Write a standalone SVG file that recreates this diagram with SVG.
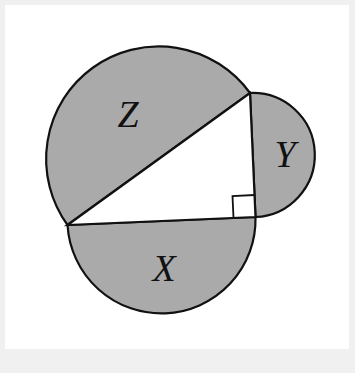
<svg xmlns="http://www.w3.org/2000/svg" width="355" height="373" viewBox="0 0 355 373">
<style>
.region{fill:#aaaaaa;stroke:#111;stroke-width:2.2;stroke-linejoin:round}
.tri{fill:#ffffff;stroke:#111;stroke-width:2.2;stroke-linejoin:miter}
.mark{fill:none;stroke:#111;stroke-width:1.8}
.lbl{font-family:"Liberation Serif","Times New Roman",serif;font-style:italic;font-size:38px;fill:#111;text-anchor:middle}
</style>
<rect x="0" y="0" width="355" height="373" fill="#f0f0f0"/>
<rect x="5" y="5" width="344" height="344" fill="#ffffff"/>
<g id="Z">
<path class="region" d="M67.5,225 A112.6,112.6 0 0 1 250,93 Z"/>
<text class="lbl" x="128" y="127">Z</text>
</g>
<g id="Y">
<path class="region" d="M250,93 A62.06,62.06 0 0 1 255.5,217 Z"/>
<text class="lbl" x="285" y="167">Y</text>
</g>
<g id="X">
<path class="region" d="M255.5,217 A94.1,94.1 0 0 1 67.5,225 Z"/>
<text class="lbl" x="164" y="281">X</text>
</g>
<g id="triangle">
<polygon class="tri" points="67.5,225 250,93 255.5,217"/>
<polyline class="mark" points="254.5,195 232.5,196 233.5,218"/>
</g>
</svg>
